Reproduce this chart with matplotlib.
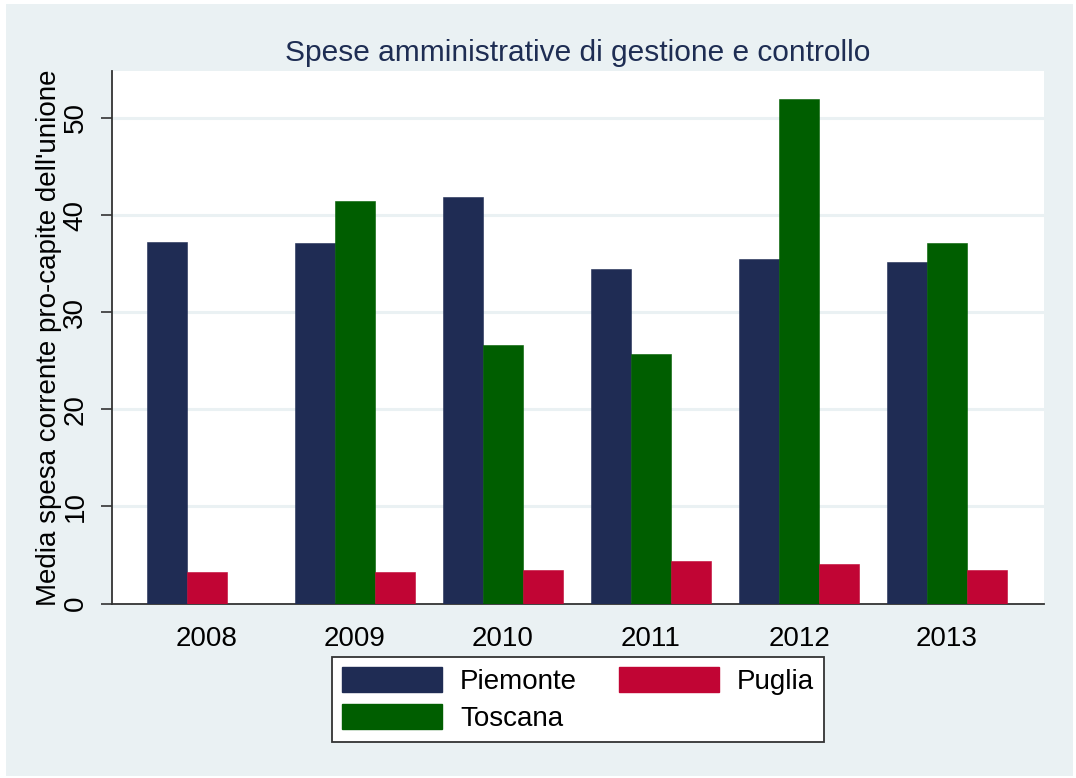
import numpy as np
import matplotlib
matplotlib.use("Agg")
import matplotlib.pyplot as plt
from matplotlib.patches import Patch, Rectangle

plt.rcParams['font.family'] = ['Liberation Sans', 'DejaVu Sans']

years = ['2008', '2009', '2010', '2011', '2012', '2013']
piemonte = [37.2, 37.1, 41.9, 34.5, 35.5, 35.2]
toscana = [np.nan, 41.5, 26.6, 25.7, 52.0, 37.1]
puglia = [3.2, 3.2, 3.4, 4.4, 4.1, 3.5]

series = [
    ('Piemonte', piemonte, '#1F2C54'),
    ('Toscana', toscana, '#005E00'),
    ('Puglia', puglia, '#C10534'),
]

bg = '#EAF1F3'
fs = 20
fig = plt.figure(figsize=(10.76, 7.78), dpi=100, facecolor='white')
# light outer panel behind everything
fig.patches.append(Rectangle((6 / 1076, 2 / 778), 1067 / 1076, 772 / 778,
                             transform=fig.transFigure, facecolor=bg,
                             edgecolor='none', zorder=-10))

ax = fig.add_axes([112 / 1076, (778 - 603.5) / 778, 932 / 1076, 532.5 / 778])
ax.set_facecolor('white')

w = 40 / 148
for i, yr in enumerate(years):
    present = [(c, vals[i]) for name, vals, c in series if not np.isnan(vals[i])]
    for k, (c, v) in enumerate(present):
        ax.bar(i + (k - 1) * w, v, w, color=c, edgecolor=c, linewidth=0.4, zorder=3)

ax.set_xlim((112 - 207) / 148, (1044 - 207) / 148)
ax.set_ylim(0, 54.84)
ax.set_xticks(range(len(years)))
ax.set_xticklabels(years, fontsize=fs)
ax.tick_params(axis='x', length=0, pad=16)
ax.set_yticks([0, 10, 20, 30, 40, 50])
ax.set_yticklabels(['0', '10', '20', '30', '40', '50'], fontsize=fs,
                   rotation=90, va='center')
ax.tick_params(axis='y', length=8, width=1.2, color='#333333', pad=9)

for y in [10, 20, 30, 40, 50]:
    ax.axhline(y, color=bg, linewidth=2.2, zorder=1)

for s in ['top', 'right']:
    ax.spines[s].set_visible(False)
for s in ['left', 'bottom']:
    ax.spines[s].set_color('#333333')
    ax.spines[s].set_linewidth(1.3)

ax.set_ylabel("Media spesa corrente pro-capite dell'unione", fontsize=fs, labelpad=0)
ax.set_title('Spese amministrative di gestione e controllo', fontsize=21.5,
             color='#1E2D53', pad=7)

handles = [Patch(facecolor=c, edgecolor=c, label=name) for name, vals, c in series]
leg = fig.legend(handles=handles, ncol=2, loc='upper center',
                 bbox_to_anchor=(578 / 1076, (778 - 657) / 778),
                 fontsize=fs, frameon=True, fancybox=False, framealpha=1,
                 handlelength=3.6, handleheight=1.0, handletextpad=0.65,
                 columnspacing=1.5, labelspacing=0.33, borderpad=0.36,
                 borderaxespad=0)
leg.get_frame().set_facecolor('white')
leg.get_frame().set_edgecolor('#333333')
leg.get_frame().set_linewidth(1.3)

fig.savefig('out.png', dpi=100, facecolor='white')
